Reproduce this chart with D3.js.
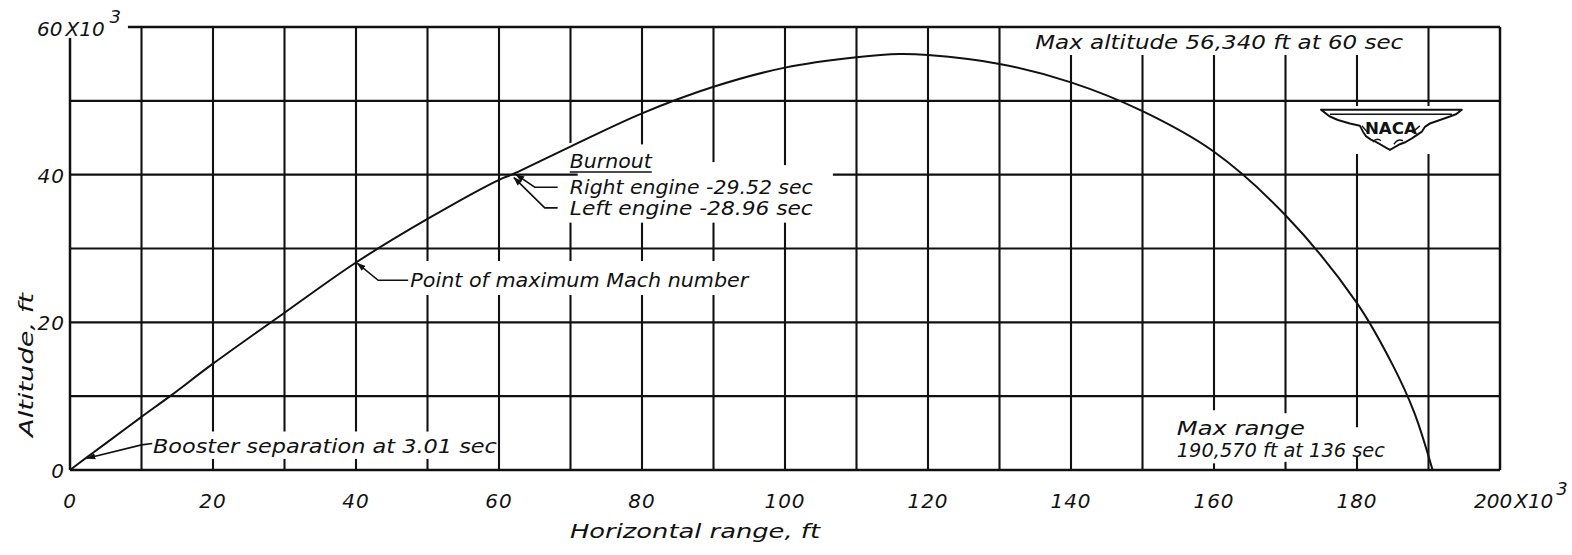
<!DOCTYPE html>
<html>
<head>
<meta charset="utf-8">
<script src="https://cdn.jsdelivr.net/npm/d3@7"></script>
<style>
  body { margin: 0; background: #fff; }
  text { font-family: "DejaVu Sans", sans-serif; font-style: italic; fill: #111; }
</style>
</head>
<body>
<div id="chart"></div>
<script>
// trajectory, both in thousands of ft
const rangeK = [0, 2.4, 5, 10, 14, 20, 30, 40, 50, 60, 62, 70, 80, 90, 100, 110, 116, 120, 130, 140, 150, 160, 170, 180, 185, 188, 190.57];
const altK   = [0, 1.75, 3.6, 7.2, 10, 14.4, 21.3, 28.1, 34.0, 39.3, 40.1, 43.8, 48.3, 51.9, 54.5, 55.9, 56.34, 56.2, 55.0, 52.5, 48.6, 43.1, 34.5, 22.6, 14.2, 7.8, 0];

const xTickLabels = ["0", "20", "40", "60", "80", "100", "120", "140", "160", "180"];
const yTickLabels = ["0", "20", "40"];
const xGrid = [10, 20, 30, 40, 50, 60, 70, 80, 90, 100, 110, 120, 130, 140, 150, 160, 170, 180, 190];
const yGrid = [10, 20, 30, 40, 50];

const W = 1572, H = 555;
const svg = d3.select("#chart").append("svg")
    .attr("width", W)
    .attr("height", H);

const x = d3.scaleLinear().domain([0, 200]).range([70, 1500]);
const y = d3.scaleLinear().domain([0, 60]).range([470, 27]);

// hand-drawn grid is broken wherever lettering sits
const vGaps = {
  20: [[1.5, 5.2]], 30: [[1.5, 5.2]], 40: [[1.5, 5.2]],
  50: [[1.5, 5.2], [23.7, 28.3]], 60: [[23.7, 28.3]],
  70: [[23.7, 28.3], [33.5, 44.3]], 80: [[23.7, 28.3], [33.5, 44.1]],
  90: [[23.7, 28.3], [33.5, 41.7]], 100: [[33.5, 41.3]],
  140: [[56.2, 60]], 150: [[56.2, 60]],
  160: [[0.9, 8.1], [56.2, 60]], 170: [[1.1, 7.7], [56.2, 60]],
  180: [[1.8, 5.8], [42.8, 49.3], [56.2, 60]], 190: [[42.8, 49.3]]
};
const hGaps = { 40: [[71.0, 106.7]] };

const pieces = (lo, hi, gaps) => {
  const out = [];
  let a = lo;
  (gaps || []).forEach(g => { if (g[0] > a) out.push([a, g[0]]); a = g[1]; });
  if (a < hi) out.push([a, hi]);
  return out;
};

const grid = svg.append("g").attr("stroke", "#111").attr("stroke-width", 2.1).attr("fill", "none");

xGrid.forEach(v => {
  pieces(0, 60, vGaps[v]).forEach(p => {
    grid.append("line").attr("x1", x(v)).attr("x2", x(v)).attr("y1", y(p[0])).attr("y2", y(p[1]));
  });
});
yGrid.forEach(v => {
  pieces(0, 200, hGaps[v]).forEach(p => {
    grid.append("line").attr("y1", y(v)).attr("y2", y(v)).attr("x1", x(p[0])).attr("x2", x(p[1]));
  });
});

// frame
const frame = svg.append("g").attr("stroke", "#111").attr("stroke-width", 2.5);
frame.append("line").attr("x1", x(0)).attr("x2", x(200)).attr("y1", y(0)).attr("y2", y(0));
frame.append("line").attr("x1", x(200)).attr("x2", x(200)).attr("y1", y(0)).attr("y2", y(60));
frame.append("line").attr("x1", x(8.1)).attr("x2", x(200)).attr("y1", y(60)).attr("y2", y(60));
frame.append("line").attr("x1", x(0)).attr("x2", x(0)).attr("y1", y(0)).attr("y2", y(58.5));

// trajectory
const pts = rangeK.map((r, i) => [r, altK[i]]);
svg.append("path")
    .datum(pts)
    .attr("fill", "none")
    .attr("stroke", "#111")
    .attr("stroke-width", 2)
    .attr("d", d3.line().x(d => x(d[0])).y(d => y(d[1])).curve(d3.curveCatmullRom.alpha(0.5)));

// tick labels
svg.append("g").selectAll("text")
  .data(xTickLabels)
  .join("text")
    .attr("x", d => x(+d))
    .attr("y", 508)
    .attr("text-anchor", "middle")
    .style("font-size", "20px")
    .style("letter-spacing", "1px")
    .text(d => d);

const x200 = svg.append("text").attr("x", x(200) - 26).attr("y", 508).style("font-size", "20px");
x200.append("tspan").text("200");
x200.append("tspan").attr("dx", 2).text("X10");
x200.append("tspan").attr("dx", 3).attr("dy", -13).style("font-size", "18px").text("3");

svg.append("g").selectAll("text")
  .data(yTickLabels)
  .join("text")
    .attr("x", 65)
    .attr("y", d => y(+d) + 8)
    .attr("text-anchor", "end")
    .style("font-size", "20px")
    .style("letter-spacing", "1px")
    .text(d => d);

const y60 = svg.append("text").attr("x", 37).attr("y", y(60) + 9).style("font-size", "20px");
y60.append("tspan").text("60");
y60.append("tspan").attr("dx", 3).text("X10");
y60.append("tspan").attr("dx", 5).attr("dy", -13).style("font-size", "18px").text("3");

// axis titles
svg.append("text")
    .attr("x", 695).attr("y", 538)
    .attr("text-anchor", "middle")
    .attr("textLength", 250).attr("lengthAdjust", "spacingAndGlyphs")
    .style("font-size", "19px")
    .text("Horizontal  range,  ft");

svg.append("text")
    .attr("transform", `translate(33,${365}) rotate(-90)`)
    .attr("text-anchor", "middle")
    .attr("textLength", 144).attr("lengthAdjust", "spacingAndGlyphs")
    .style("font-size", "19px")
    .text("Altitude,  ft");

// annotations: text at [range, alt], width in px
const notes = [
  { t: "Max altitude  56,340 ft  at 60 sec", at: [135.0, 57.0], w: 368 },
  { t: "Burnout", at: [69.9, 40.9], w: 82, under: true },
  { t: "Right engine -29.52 sec", at: [69.9, 37.4], w: 243 },
  { t: "Left engine  -28.96 sec", at: [69.9, 34.5], w: 243 },
  { t: "Point of maximum Mach number", at: [47.6, 24.8], w: 338 },
  { t: "Booster  separation  at 3.01 sec", at: [11.6, 2.3], w: 344 },
  { t: "Max  range", at: [154.8, 4.74], w: 128 },
  { t: "190,570 ft at 136 sec", at: [154.8, 1.76], w: 208 }
];

notes.forEach(n => {
  svg.append("text")
      .attr("x", x(n.at[0])).attr("y", y(n.at[1]))
      .attr("textLength", n.w).attr("lengthAdjust", "spacingAndGlyphs")
      .style("font-size", "19px")
      .text(n.t);
  if (n.under) {
    svg.append("line")
        .attr("x1", x(n.at[0])).attr("x2", x(n.at[0]) + n.w)
        .attr("y1", y(n.at[1]) + 4).attr("y2", y(n.at[1]) + 4)
        .attr("stroke", "#111").attr("stroke-width", 1.6);
  }
});

// leader lines, ending in arrowheads on the trajectory
svg.append("defs").append("marker")
    .attr("id", "arr")
    .attr("viewBox", "0 0 10 10")
    .attr("refX", 9).attr("refY", 5)
    .attr("markerWidth", 9).attr("markerHeight", 9)
    .attr("markerUnits", "userSpaceOnUse")
    .attr("orient", "auto")
  .append("path")
    .attr("d", "M0,1.5 L10,5 L0,8.5 Z")
    .attr("fill", "#111");

const leaders = [
  [[11.5, 3.6], [10.0, 3.4], [2.4, 1.6]],
  [[47.3, 25.7], [43.1, 25.7], [40.2, 28.0]],
  [[68.2, 38.3], [65.0, 38.3], [62.4, 40.0]],
  [[68.2, 35.5], [66.4, 35.5], [62.1, 39.6]]
];

svg.append("g").selectAll("path")
  .data(leaders)
  .join("path")
    .attr("fill", "none")
    .attr("stroke", "#111")
    .attr("stroke-width", 1.6)
    .attr("marker-end", "url(#arr)")
    .attr("d", d3.line().x(d => x(d[0])).y(d => y(d[1])));

// NACA wing badge
const logo = svg.append("g").attr("transform", `translate(${x(184.6)},${y(48.8)})`);
logo.append("path")
    .attr("transform", "scale(1,1.15)")
    .attr("d", "M-69,0 L72,0 L66,4 L60,6 L50,9 L40,12 L35,15 L32,19 L27,22 L22,25 L16,28 L10,30 L4,33 L0,35 L-4,33 L-10,30 L-14,28 L-19,26 L-24,23 L-27,19 L-30,14 L-40,12 L-52,9 L-60,6 Z")
    .attr("fill", "#fff").attr("stroke", "#111").attr("stroke-width", 1.8).attr("stroke-linejoin", "round");
logo.append("path")
    .attr("transform", "scale(1,1.15)")
    .attr("d", "M-60,4 L62,4 M-28,14 L-22,20 M22,20 L30,14 M-17,28 q4,-4 8,-1 M4,30 q4,-5 9,-3")
    .attr("fill", "none").attr("stroke", "#111").attr("stroke-width", 1.3);
logo.append("text")
    .attr("x", 1).attr("y", 24)
    .attr("text-anchor", "middle")
    .attr("textLength", 52).attr("lengthAdjust", "spacingAndGlyphs")
    .style("font-style", "normal")
    .style("font-weight", "bold")
    .style("font-size", "16px")
    .text("NACA");
</script>
</body>
</html>
